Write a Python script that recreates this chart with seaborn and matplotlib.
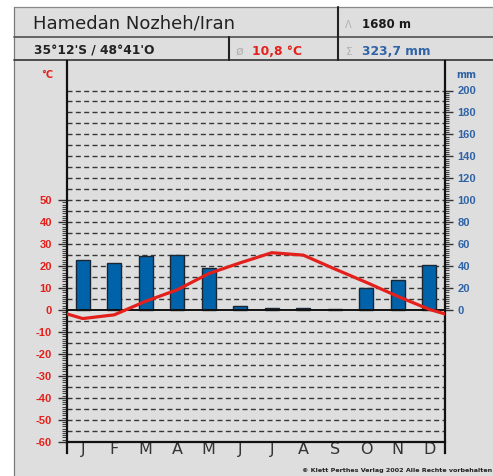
import numpy as np
import matplotlib
matplotlib.use("Agg")
import matplotlib.pyplot as plt
from matplotlib.lines import Line2D
from matplotlib.patches import Rectangle
import seaborn as sns

# ---------------- data ----------------
months = ["Jan", "Feb", "Mar", "Apr", "May", "Jun", "Jul", "Aug", "Sep", "Oct", "Nov", "Dec"]
month_letters = ["J", "F", "M", "A", "M", "J", "J", "A", "S", "O", "N", "D"]
temperature_c = [-3.9, -2.2, 4.0, 9.2, 16.6, 21.5, 26.1, 25.0, 18.7, 12.6, 6.2, 0.3]
precip_mm = [46.0, 43.0, 49.0, 50.0, 38.0, 3.5, 1.8, 2.0, 0.6, 20.4, 27.3, 41.0]
temp_ticks = list(range(-60, 51, 10))
precip_ticks = list(range(0, 201, 20))
station = "Hamedan Nozheh/Iran"
coords = "35°12'S / 48°41'O"
elevation = "1680 m"
mean_temp = "10,8 °C"
total_precip = "323,7 mm"
credit = "© Klett Perthes Verlag 2002 Alle Rechte vorbehalten"

# ---------------- style ----------------
W, H = 493, 476
RED = "#e3201b"
BLUE = "#2f63a6"
BAR = "#0062a8"
PANEL = "#dedede"
sns.set_style("white")
plt.rcParams["lines.scale_dashes"] = False
plt.rcParams["font.family"] = ["DejaVu Sans"]

fig = plt.figure(figsize=(W / 100, H / 100), dpi=100, facecolor="white")


def fx(x):
    return x / W


def fy(y):
    return 1 - y / H


fig.add_artist(Rectangle((fx(14), 0), fx(493) - fx(14), fy(7), transform=fig.transFigure,
                         facecolor=PANEL, edgecolor="none", zorder=0))


def hline(y, x0, x1, color, lw):
    fig.add_artist(Line2D([fx(x0), fx(x1)], [fy(y), fy(y)], transform=fig.transFigure,
                          color=color, lw=lw, zorder=1))


def vline(x, y0, y1, color, lw):
    fig.add_artist(Line2D([fx(x), fx(x)], [fy(y0), fy(y1)], transform=fig.transFigure,
                          color=color, lw=lw, zorder=1))


hline(7.3, 14, 493, "#8a8a8a", 0.9)
vline(14.3, 7, 476, "#7a7a7a", 0.9)
hline(37.3, 14, 493, "#5a5a5a", 1.3)
hline(60.3, 14, 493, "#333333", 1.2)
vline(338, 7, 60, "#222222", 1.5)
vline(229, 37, 60, "#222222", 1.5)

# header texts
fig.text(fx(33), fy(28.3), station, fontsize=13, color="#222222", ha="left", va="baseline")
fig.text(fx(345), fy(28.3), "Λ", fontsize=7, color="#b0b0b0", ha="left", va="baseline")
fig.text(fx(362), fy(28.3), elevation, fontsize=8.5, fontweight="bold", color="#1a1a1a",
         ha="left", va="baseline")
fig.text(fx(34), fy(54.8), coords, fontsize=8.8, fontweight="bold", color="#222222",
         ha="left", va="baseline")
fig.text(fx(236), fy(54.8), "ø", fontsize=9, color="#b0b0b0", ha="left", va="baseline")
fig.text(fx(252), fy(54.8), mean_temp, fontsize=8.8, fontweight="bold", color=RED,
         ha="left", va="baseline")
fig.text(fx(346), fy(54.8), "Σ", fontsize=7.5, color="#b0b0b0", ha="left", va="baseline")
fig.text(fx(362), fy(54.8), total_precip, fontsize=8.8, fontweight="bold", color=BLUE,
         ha="left", va="baseline")
fig.text(fx(492), fy(472), credit, fontsize=4.6, fontweight="bold", color="#222222",
         ha="right", va="baseline")

# ---------------- axes ----------------
PX_PER_C = 2.195
Y_M60 = 441.7
Y_BOT, Y_TOP = 453.0, 60.5
tmin = -60 - (Y_BOT - Y_M60) / PX_PER_C
tmax = -60 + (Y_M60 - Y_TOP) / PX_PER_C

ax = fig.add_axes([fx(67), fy(Y_BOT), fx(445) - fx(67), (Y_BOT - Y_TOP) / H])
ax2 = ax.twinx()
ax.set_zorder(3)
ax.patch.set_visible(False)
ax2.set_zorder(2)
ax2.patch.set_visible(False)

# dashed grid (mm units: every 10 mm == every 5 °C)
for v in range(-110, 201, 10):
    if v != 0:
        ax2.axhline(v, color="#363636", lw=1.0, dashes=(3.6, 2.4), zorder=0.5)

sns.barplot(x=months, y=precip_mm, ax=ax2, color=BAR, saturation=1, width=0.46,
            edgecolor="#1b2633", linewidth=1.0, zorder=2)
ax2.axhline(0, color="#111111", lw=1.4, zorder=3)

edge_t = (temperature_c[0] + temperature_c[-1]) / 2
xpos = [-0.5] + list(range(len(months))) + [len(months) - 0.5]
tvals = [edge_t] + temperature_c + [edge_t]
sns.lineplot(x=xpos, y=tvals, ax=ax, color=RED, linewidth=2.3, sort=False, zorder=5,
             solid_joinstyle="round", solid_capstyle="round")

ax.set_xlim(-0.5, 11.5)
ax.set_ylim(tmin, tmax)
ax2.set_ylim(2 * tmin, 2 * tmax)
ax.set_xlabel("")
ax.set_ylabel("")
ax2.set_xlabel("")
ax2.set_ylabel("")

# spines
for s in ["top", "right"]:
    ax.spines[s].set_visible(False)
for s in ["top", "left", "bottom"]:
    ax2.spines[s].set_visible(False)
ax.spines["left"].set_linewidth(1.6)
ax.spines["left"].set_color("#111111")
ax.spines["bottom"].set_position(("data", -60))
ax.spines["bottom"].set_linewidth(1.6)
ax.spines["bottom"].set_color("#111111")
ax2.spines["right"].set_linewidth(1.6)
ax2.spines["right"].set_color("#111111")

# x ticks: separators at month boundaries, letters at month centres
ax.set_xticks(np.arange(-0.5, 12, 1), labels=[""] * 13)
ax.set_xticks(np.arange(12), labels=month_letters, minor=True)
ax.tick_params(axis="x", which="major", length=8, width=1.5, color="#222222", direction="out")
ax.tick_params(axis="x", which="minor", length=0, pad=0.5, labelsize=11.5, labelcolor="#333333")

# temperature axis
ax.set_yticks(temp_ticks, labels=[str(t) for t in temp_ticks])
ax.set_yticks(np.arange(-60, 51, 1), minor=True)
ax.tick_params(axis="y", which="major", length=6.5, width=1.0, color="#333333", pad=4.3,
               labelcolor=RED, labelsize=8)
ax.tick_params(axis="y", which="minor", length=3.3, width=0.8, color="#444444")
for lbl in ax.get_yticklabels():
    lbl.set_fontfamily("Liberation Sans")
    lbl.set_fontweight("bold")

# precipitation axis
ax2.set_yticks(precip_ticks, labels=[str(p) for p in precip_ticks])
ax2.set_yticks(np.arange(0, 201, 2), minor=True)
ax2.tick_params(axis="y", which="major", length=5.5, width=1.0, color="#333333", pad=3.6,
                labelcolor=BLUE, labelsize=8)
ax2.tick_params(axis="y", which="minor", length=3.0, width=0.8, color="#444444")
for lbl in ax2.get_yticklabels():
    lbl.set_fontfamily("Liberation Sans")
    lbl.set_fontweight("bold")

fig.text(fx(47), fy(75), "°C", fontsize=7, fontweight="bold", color=RED, ha="center", va="center")
fig.text(fx(466), fy(75), "mm", fontsize=7, fontweight="bold", color=BLUE, ha="center", va="center")

fig.savefig("out.png", dpi=100, facecolor="white")
